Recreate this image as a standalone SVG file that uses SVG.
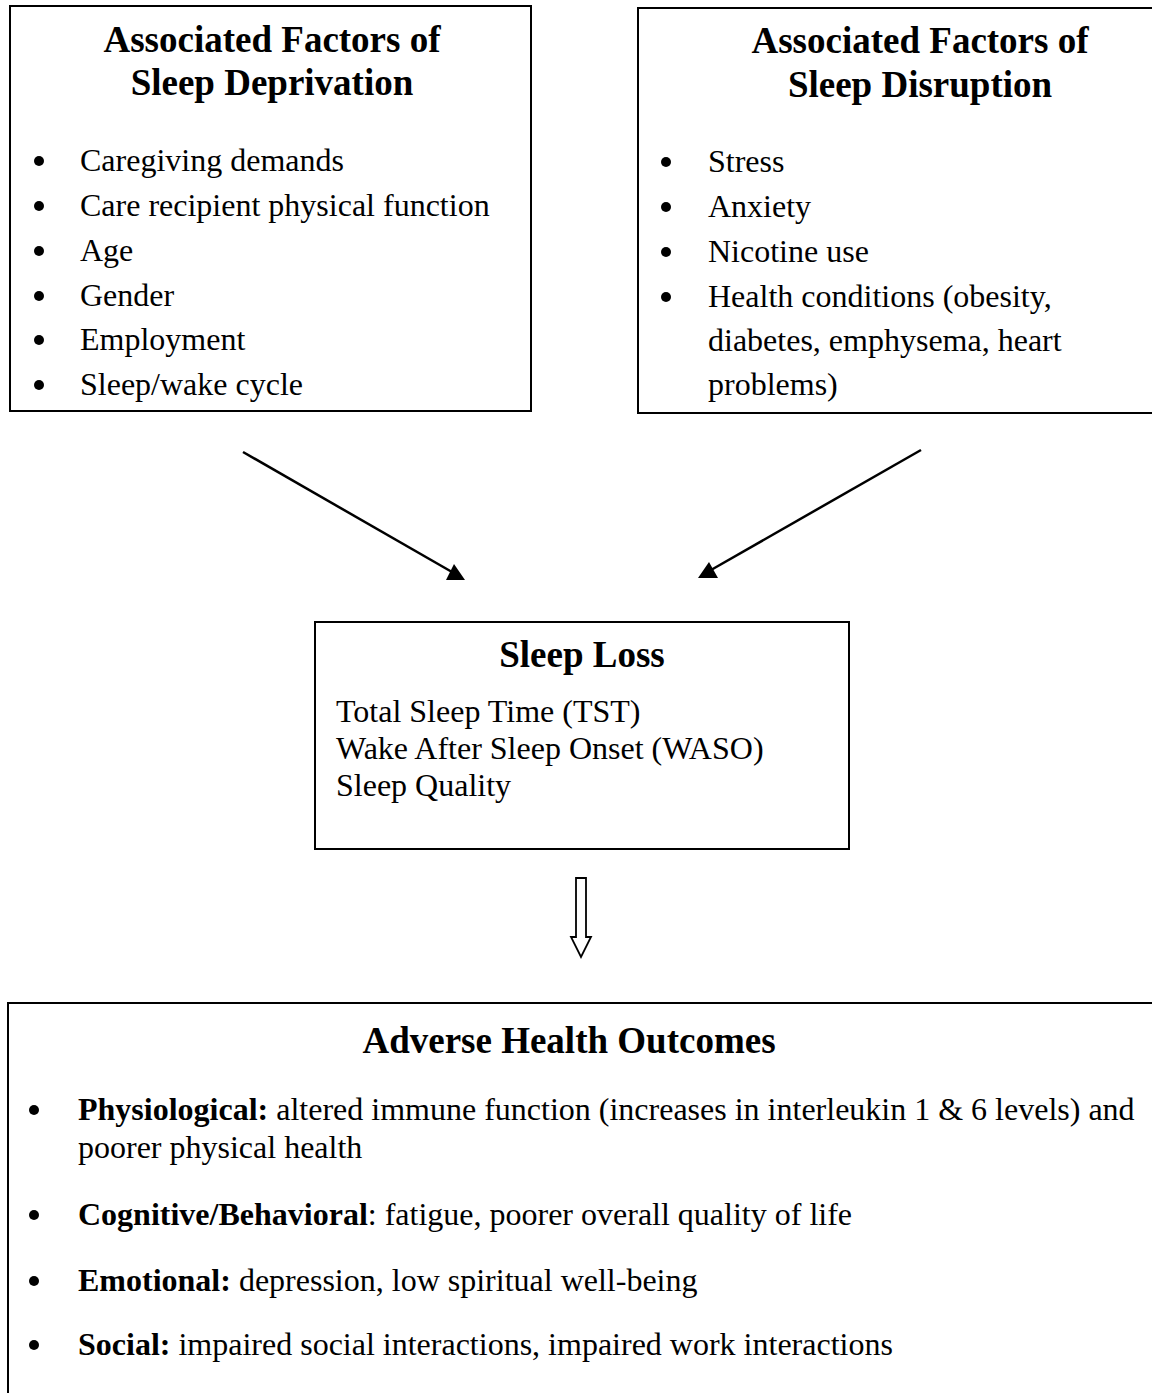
<svg xmlns="http://www.w3.org/2000/svg" width="1152" height="1393" viewBox="0 0 1152 1393">
<style>
.box{fill:#fff;stroke:#000;stroke-width:2}
.t{font-family:"Liberation Serif","Times New Roman",serif;fill:#000}
.h{font-size:37px;font-weight:bold;text-anchor:middle}
.b{font-size:32px}
.bb{font-weight:bold}
.dot{fill:#000}
.con{stroke:#000;stroke-width:2.5;fill:none}
</style>
<rect width="1152" height="1393" fill="#fff"/>
<g id="deprivation">
<rect class="box" x="10" y="6" width="521" height="405"/>
<text class="t h" x="272" y="52">Associated Factors of</text>
<text class="t h" x="272" y="95">Sleep Deprivation</text>
<circle class="dot" cx="39" cy="161" r="5"/>
<circle class="dot" cx="39" cy="206" r="5"/>
<circle class="dot" cx="39" cy="251" r="5"/>
<circle class="dot" cx="39" cy="296" r="5"/>
<circle class="dot" cx="39" cy="340" r="5"/>
<circle class="dot" cx="39" cy="385" r="5"/>
<text class="t b" x="80" y="171">Caregiving demands</text>
<text class="t b" x="80" y="216">Care recipient physical function</text>
<text class="t b" x="80" y="261">Age</text>
<text class="t b" x="80" y="306">Gender</text>
<text class="t b" x="80" y="350">Employment</text>
<text class="t b" x="80" y="395">Sleep/wake cycle</text>
</g>
<g id="disruption">
<rect class="box" x="638" y="8" width="530" height="405"/>
<text class="t h" x="920" y="53">Associated Factors of</text>
<text class="t h" x="920" y="97">Sleep Disruption</text>
<circle class="dot" cx="666" cy="162" r="5"/>
<circle class="dot" cx="666" cy="207" r="5"/>
<circle class="dot" cx="666" cy="252" r="5"/>
<circle class="dot" cx="666" cy="297" r="5"/>
<text class="t b" x="708" y="172">Stress</text>
<text class="t b" x="708" y="217">Anxiety</text>
<text class="t b" x="708" y="262">Nicotine use</text>
<text class="t b" x="708" y="307">Health conditions (obesity,</text>
<text class="t b" x="708" y="351">diabetes, emphysema, heart</text>
<text class="t b" x="708" y="395">problems)</text>
</g>
<g id="sleeploss">
<rect class="box" x="315" y="622" width="534" height="227"/>
<text class="t h" x="582" y="667">Sleep Loss</text>
<text class="t b" x="336" y="722">Total Sleep Time (TST)</text>
<text class="t b" x="336" y="759">Wake After Sleep Onset (WASO)</text>
<text class="t b" x="336" y="796">Sleep Quality</text>
</g>
<g id="outcomes">
<rect class="box" x="8" y="1003" width="1160" height="400"/>
<text class="t h" x="569" y="1053">Adverse Health Outcomes</text>
<circle class="dot" cx="34" cy="1110" r="5"/>
<circle class="dot" cx="34" cy="1215" r="5"/>
<circle class="dot" cx="34" cy="1281" r="5"/>
<circle class="dot" cx="34" cy="1345" r="5"/>
<text class="t b" x="78" y="1120"><tspan class="bb">Physiological:</tspan> altered immune function (increases in interleukin 1 &amp; 6 levels) and</text>
<text class="t b" x="78" y="1158">poorer physical health</text>
<text class="t b" x="78" y="1225"><tspan class="bb">Cognitive/Behavioral</tspan>: fatigue, poorer overall quality of life</text>
<text class="t b" x="78" y="1291"><tspan class="bb">Emotional:</tspan> depression, low spiritual well-being</text>
<text class="t b" x="78" y="1355"><tspan class="bb">Social:</tspan> impaired social interactions, impaired work interactions</text>
</g>
<g id="connectors">
<line class="con" x1="243" y1="452" x2="452" y2="572"/>
<polygon points="465,580 454,564 446,580" fill="#000"/>
<line class="con" x1="921" y1="450" x2="711" y2="570"/>
<polygon points="698,578 709,562 718,578" fill="#000"/>
<polygon points="576,878 586,878 586,937 591,937 581,957 571,937 576,937" fill="#fff" stroke="#000" stroke-width="1.8"/>
</g>
</svg>
